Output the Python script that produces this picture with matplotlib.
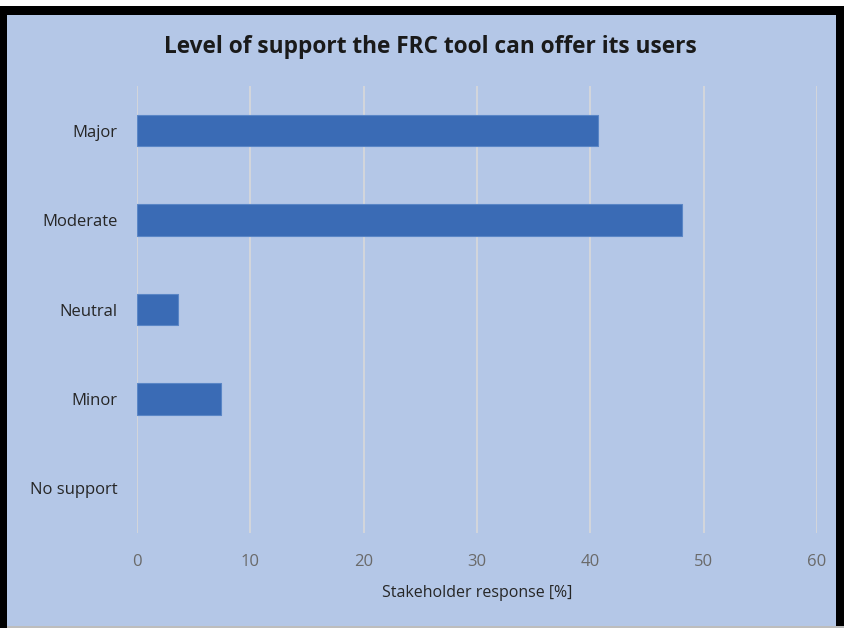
import matplotlib
matplotlib.use("Agg")
import matplotlib.pyplot as plt
from matplotlib.patches import Rectangle

categories = ["Major", "Moderate", "Neutral", "Minor", "No support"]
values = [40.7, 48.1, 3.6, 7.4, 0.0]
xticks = [0, 10, 20, 30, 40, 50, 60]

W, H = 844, 628
fig = plt.figure(figsize=(W / 100, H / 100), dpi=100)
fig.patch.set_facecolor("white")
bg = "#B4C7E7"

# background panel + black frame
fig.add_artist(Rectangle((0, 0), 1, 1 - 6 / H, transform=fig.transFigure, facecolor="black", edgecolor="none", zorder=-3))
fig.add_artist(Rectangle((7 / W, 2 / H), (836 - 7) / W, (613 - 2) / H, transform=fig.transFigure, facecolor=bg, edgecolor="none", zorder=-2))
fig.add_artist(Rectangle((7 / W, 0), 1, 2 / H, transform=fig.transFigure, facecolor="#BDBDBD", edgecolor="none", zorder=-1))

ax = fig.add_axes([137 / W, 1 - 533 / H, (817 - 137) / W, (533 - 86) / H])
ax.set_facecolor(bg)
ax.patch.set_alpha(0)
y = list(range(len(categories)))
lws = [0.8 if v > 0 else 0 for v in values]
ax.barh(y, values, height=0.35, color="#3A6BB5", edgecolor="#5A86C6", linewidth=lws, zorder=3)
ax.set_ylim(len(categories) - 0.5, -0.5)
ax.set_xlim(0, 60)
ax.set_xticks(xticks)
ax.set_xticklabels([str(t) for t in xticks])
ax.set_yticks(y)
ax.set_yticklabels(categories)
ax.grid(axis="x", color="#D9D9D9", linewidth=1.2, zorder=0)
for s in ax.spines.values():
    s.set_visible(False)
ax.tick_params(axis="both", length=0)
ax.tick_params(axis="x", pad=15, labelsize=12, labelcolor="#6A6A6A")
ax.tick_params(axis="y", pad=14, labelsize=12, labelcolor="#262626")
for lab in ax.get_yticklabels() + ax.get_xticklabels():
    lab.set_family("Open Sans")
ax.set_xlabel("Stakeholder response [%]", fontsize=11.5, color="#262626", family="Open Sans", labelpad=11)

fig.text(430 / W, 1 - 47 / H, "Level of support the FRC tool can offer its users", ha="center", va="center",
         fontsize=16.3, fontweight="bold", color="#1A1A1A", family="Open Sans")

fig.savefig("out.png", dpi=100)
